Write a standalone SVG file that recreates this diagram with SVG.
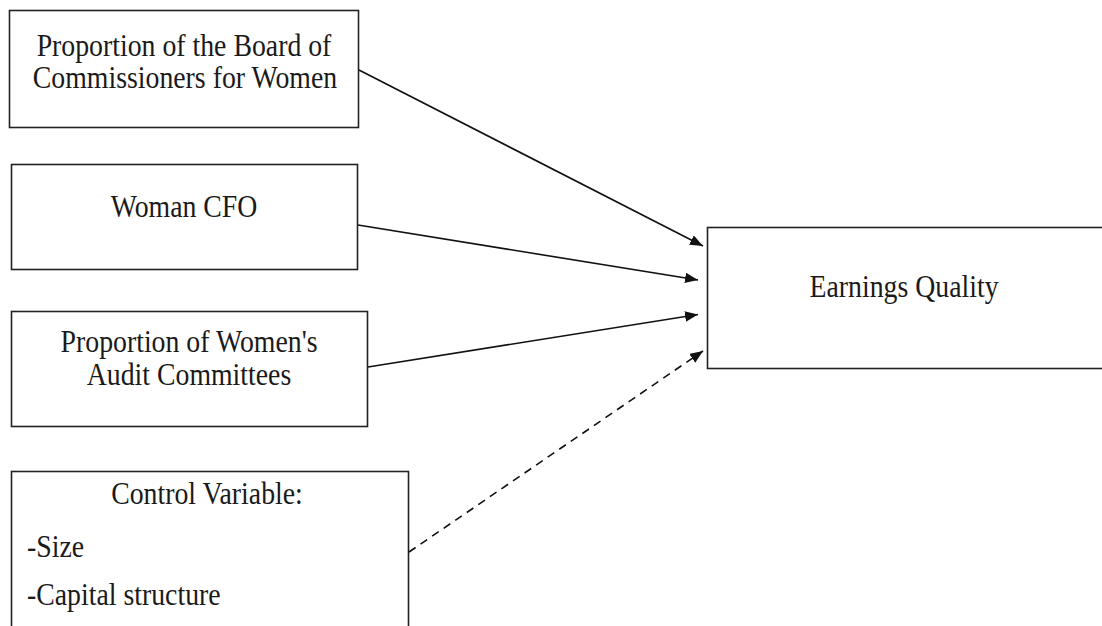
<svg xmlns="http://www.w3.org/2000/svg" width="1102" height="626" viewBox="0 0 1102 626">
<style>
.box{fill:#fff;stroke:#222;stroke-width:1.6}
.t{font-family:"Liberation Serif","Times New Roman",serif;font-size:27.8px;fill:#1a1a1a}
.c{text-anchor:middle}
.conn{stroke:#111;stroke-width:1.6;fill:none}
.dash{stroke-dasharray:8 6}
</style>
<defs>
<marker id="ah" markerUnits="userSpaceOnUse" markerWidth="14" markerHeight="11" refX="13" refY="5.25" orient="auto">
<path d="M0,0 L13,5.25 L0,10.5 z" fill="#111"/>
</marker>
</defs>
<rect width="1102" height="626" fill="#fff"/>
<g id="node-board">
<rect class="box" x="9.5" y="10.5" width="349" height="117"/>
<text class="t c" transform="translate(184,56) scale(1,1.15)">Proportion of the Board of</text>
<text class="t c" transform="translate(185,88) scale(1,1.15)">Commissioners for Women</text>
</g>
<g id="node-cfo">
<rect class="box" x="11.5" y="164.5" width="346" height="105"/>
<text class="t c" transform="translate(184,217) scale(1,1.15)">Woman CFO</text>
</g>
<g id="node-audit">
<rect class="box" x="11.5" y="311.5" width="356" height="115"/>
<text class="t c" transform="translate(189,352) scale(1,1.15)">Proportion of Women's</text>
<text class="t c" transform="translate(189,385) scale(1,1.15)">Audit Committees</text>
</g>
<g id="node-control">
<rect class="box" x="11.5" y="471.5" width="397" height="170"/>
<text class="t c" transform="translate(207,504) scale(1,1.15)">Control Variable:</text>
<text class="t" transform="translate(27,557) scale(1,1.15)">-Size</text>
<text class="t" transform="translate(27,605) scale(1,1.15)">-Capital structure</text>
</g>
<g id="node-earnings">
<rect class="box" x="707.5" y="227.5" width="400" height="141"/>
<text class="t c" transform="translate(904,297) scale(1,1.15)">Earnings Quality</text>
</g>
<g id="connectors">
<line class="conn" x1="359" y1="70" x2="703" y2="246" marker-end="url(#ah)"/>
<line class="conn" x1="358" y1="225" x2="698" y2="280" marker-end="url(#ah)"/>
<line class="conn" x1="368" y1="367" x2="698" y2="314.5" marker-end="url(#ah)"/>
<line class="conn dash" x1="409" y1="552" x2="703" y2="351" marker-end="url(#ah)"/>
</g>
</svg>
